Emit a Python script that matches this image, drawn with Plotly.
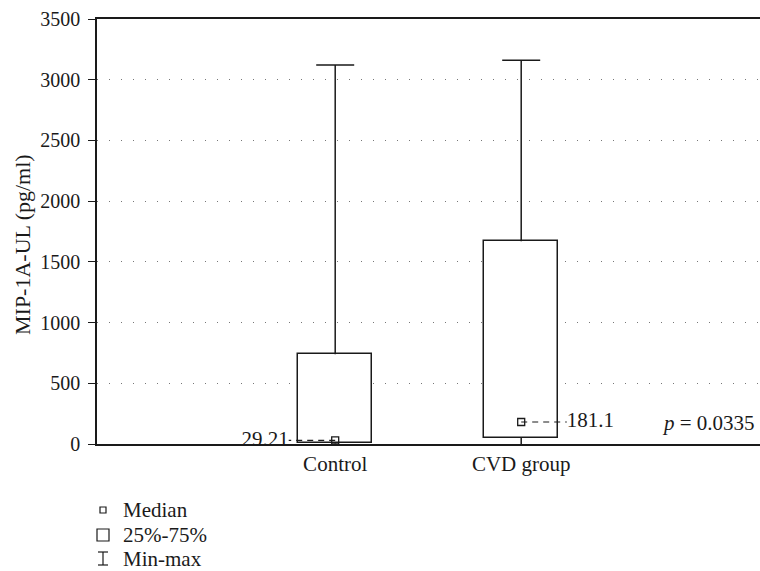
import plotly.graph_objects as go

# Summary statistics for MIP-1A-UL (pg/ml)
groups = ["Control", "CVD group"]
minimum = [0, 0]
q1 = [5, 50]
median = [29.21, 181.1]
q3 = [740, 1670]
maximum = [3122, 3160]
median_labels = ["29.21", "181.1"]
p_text = "<i>p</i> = 0.0335"
y_title = "MIP-1A-UL (pg/ml)"
y_ticks = [0, 500, 1000, 1500, 2000, 2500, 3000, 3500]
legend_items = ["Median", "25%-75%", "Min-max"]

FONT = "Liberation Serif"
INK = "#1a1a1a"
W, H = 760, 571
ML, MR, MT, MB = 97, 0, 19, 127
BOX_W = 0.4
xpos = list(range(len(groups)))

fig = go.Figure()

# Interquartile boxes
fig.add_trace(go.Bar(
    x=xpos, base=q1, y=[b - a for a, b in zip(q1, q3)], width=BOX_W,
    marker=dict(color="white", line=dict(color=INK, width=1.5)),
    showlegend=False, hoverinfo="skip"))

# Whisker stems (box edge to extreme values)
wx, wy = [], []
for i in xpos:
    wx += [i, i, None, i, i, None]
    wy += [q3[i], maximum[i], None, minimum[i], q1[i], None]
fig.add_trace(go.Scatter(x=wx, y=wy, mode="lines", line=dict(color=INK, width=1.5),
                         showlegend=False, hoverinfo="skip"))

# Caps at the maxima
fig.add_trace(go.Scatter(
    x=xpos, y=maximum, mode="markers", marker=dict(size=0.1, color="rgba(0,0,0,0)"),
    error_y=dict(type="data", array=[0] * len(xpos), color=INK, thickness=1.5, width=19),
    showlegend=False, hoverinfo="skip"))

# Dashed leaders from the medians to their value labels
lead = [-0.25, 0.245]
for i in xpos:
    fig.add_trace(go.Scatter(
        x=[i, i + lead[i]], y=[median[i], median[i]], mode="lines",
        line=dict(color=INK, width=1.2, dash="6px,5px"),
        showlegend=False, hoverinfo="skip"))
    fig.add_trace(go.Scatter(
        x=[i + lead[i]], y=[median[i]], mode="text", text=[median_labels[i]],
        textposition="middle left" if lead[i] < 0 else "middle right",
        textfont=dict(family=FONT, size=21, color=INK),
        showlegend=False, hoverinfo="skip"))

# Median markers
fig.add_trace(go.Scatter(
    x=xpos, y=median, mode="markers",
    marker=dict(symbol="square-open", size=7, color=INK, line=dict(width=1.3)),
    showlegend=False, hoverinfo="skip"))

plot_h = H - MT - MB
plot_w = W - ML - MR
def py(ypix):
    return (H - MB - ypix) / plot_h
def px(xpix):
    return (xpix - ML) / plot_w

fig.add_annotation(x=px(757), xref="paper", y=175, yref="y", text=p_text,
                   xanchor="right", yanchor="middle",
                   showarrow=False, font=dict(family=FONT, size=21, color=INK))

# Vertical axis title
fig.add_annotation(x=px(22), xref="paper", y=py(245), yref="paper", text=y_title,
                   textangle=-90, xanchor="center", yanchor="middle",
                   showarrow=False, font=dict(family=FONT, size=22, color=INK))

# Key below the chart
rows = [510, 535, 559]
for label, yy in zip(legend_items, rows):
    fig.add_annotation(x=px(121), xref="paper", y=py(yy), yref="paper", text=label,
                       showarrow=False, xanchor="left", yanchor="middle",
                       font=dict(family=FONT, size=21, color=INK))
cx = 103
fig.add_shape(type="rect", xref="paper", yref="paper",
              x0=px(cx - 3), x1=px(cx + 3), y0=py(rows[0] - 3), y1=py(rows[0] + 3),
              line=dict(color=INK, width=1.2))
fig.add_shape(type="rect", xref="paper", yref="paper",
              x0=px(cx - 6), x1=px(cx + 6), y0=py(rows[1] - 6), y1=py(rows[1] + 6),
              line=dict(color=INK, width=1.2))
fig.add_shape(type="line", xref="paper", yref="paper",
              x0=px(cx - 5), x1=px(cx + 5), y0=py(rows[2] - 7), y1=py(rows[2] - 7),
              line=dict(color=INK, width=1.2))
fig.add_shape(type="line", xref="paper", yref="paper",
              x0=px(cx - 5), x1=px(cx + 5), y0=py(rows[2] + 6), y1=py(rows[2] + 6),
              line=dict(color=INK, width=1.2))
fig.add_shape(type="line", xref="paper", yref="paper",
              x0=px(cx), x1=px(cx), y0=py(rows[2] - 7), y1=py(rows[2] + 6),
              line=dict(color=INK, width=1.2))

x_left = -(335.2 - ML) / 186
x_right = x_left + plot_w / 186

fig.update_layout(
    width=W, height=H,
    margin=dict(l=ML, r=MR, t=MT, b=MB, pad=0),
    paper_bgcolor="white", plot_bgcolor="white",
    font=dict(family=FONT, size=20, color=INK),
    bargap=0,
    xaxis=dict(range=[x_left, x_right], tickvals=xpos, ticktext=groups,
               showline=True, linecolor=INK, linewidth=1.5, mirror=True,
               ticks="", showgrid=False, zeroline=False, ticklabelstandoff=0,
               tickfont=dict(family=FONT, size=21, color=INK)),
    yaxis=dict(range=[0, 3500], tickvals=y_ticks, showline=True, linecolor=INK,
               linewidth=1.5, ticks="outside", ticklen=7, tickcolor=INK,
               showgrid=True, gridcolor="#777", gridwidth=1, griddash="1px,11px",
               zeroline=False, ticklabelstandoff=4,
               tickfont=dict(family=FONT, size=20, color=INK)),
)

fig.write_html("out.html")
